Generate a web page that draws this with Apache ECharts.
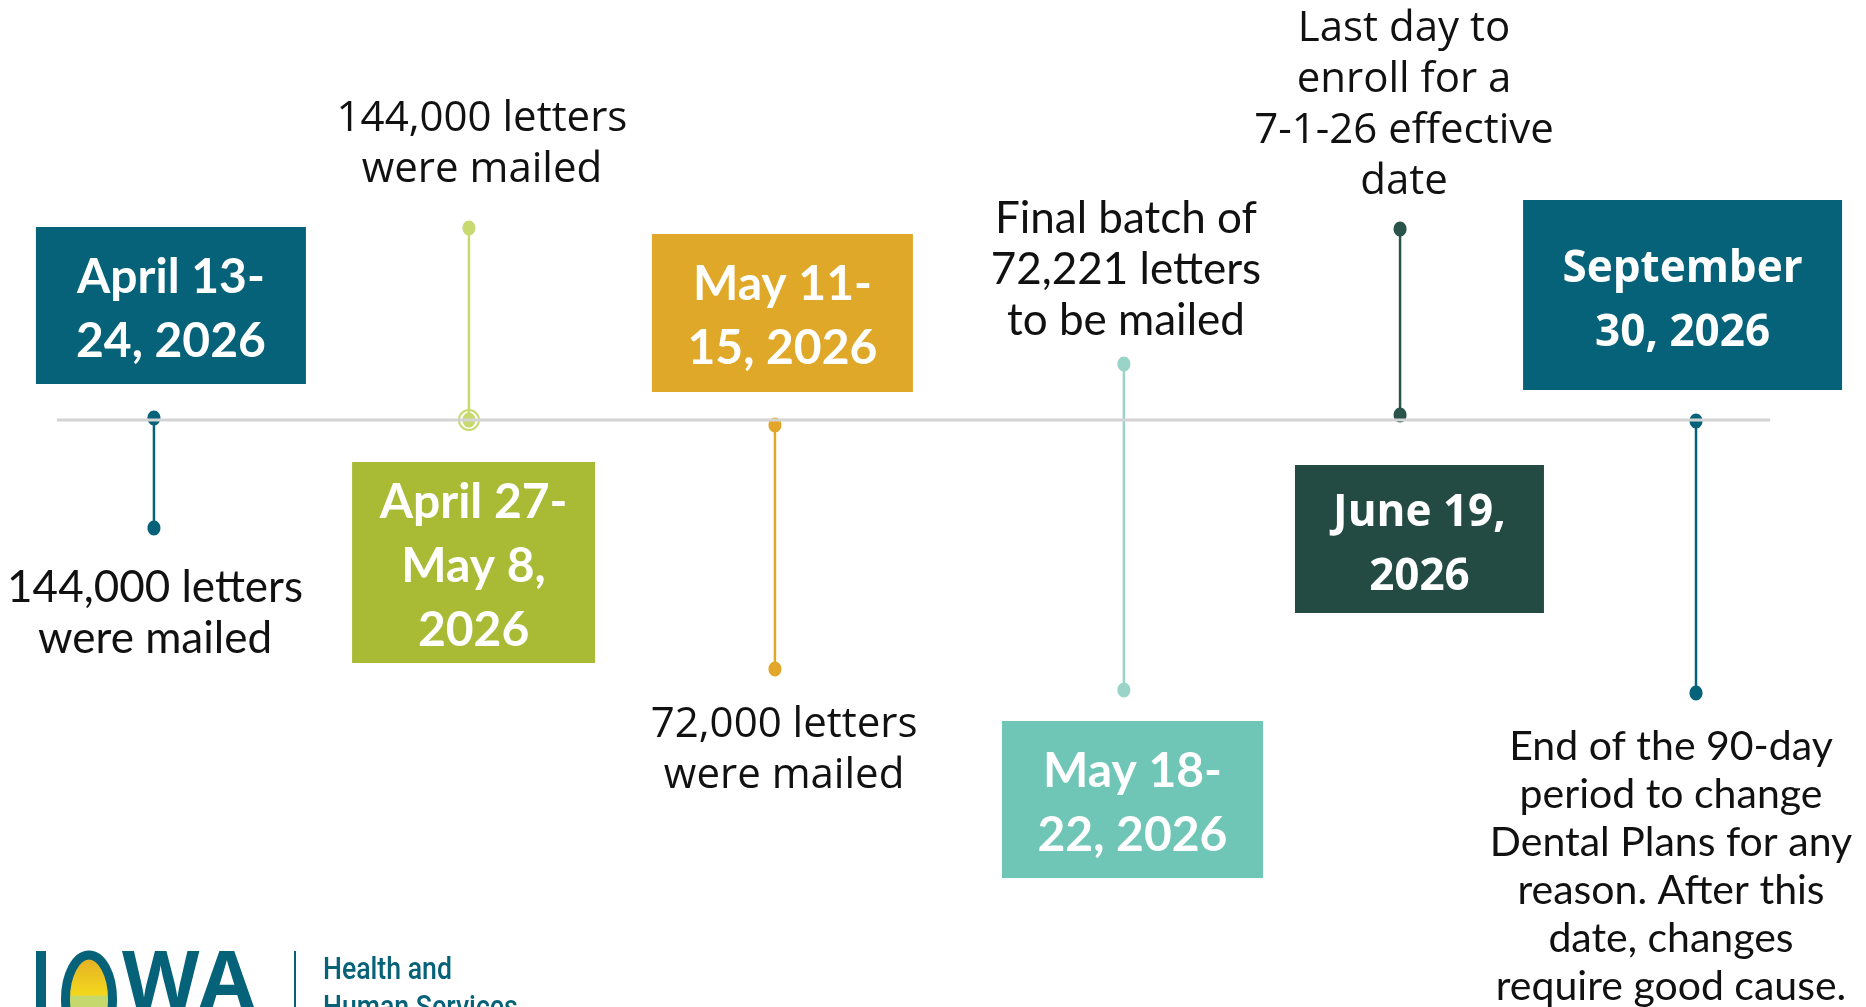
<!DOCTYPE html>
<html>
<head>
<meta charset="utf-8">
<title>Dental plan letters timeline</title>
<script src="https://cdn.jsdelivr.net/npm/echarts@6/dist/echarts.min.js"></script>
<style>
  html, body { margin: 0; padding: 0; background: #fff; }
  #chart { width: 1866px; height: 1007px; }
</style>
</head>
<body>
<div id="chart"></div>
<script>
// timeline events
var dates = [
  'April 13-\n24, 2026',
  'April 27-\nMay 8,\n2026',
  'May 11-\n15, 2026',
  'May 18-\n22, 2026',
  'June 19,\n2026',
  'September\n30, 2026'
];
var notes = [
  '144,000 letters\nwere mailed',
  '144,000 letters\nwere mailed',
  '72,000 letters\nwere mailed',
  'Final batch of\n72,221 letters\nto be mailed',
  'Last day to\nenroll for a\n7-1-26 effective\ndate',
  'End of the 90-day\nperiod to change\nDental Plans for any\nreason. After this\ndate, changes\nrequire good cause.'
];
// position along the timeline (x, % of width) and stem ends (y, 0 = timeline)
var slotX = [8.25, 25.13, 41.53, 60.23, 75.03, 90.89];
var stemStart = [0.2, 0, -0.5, 5.6, 0.5, -0.1];
var stemEnd = [-10.8, 19.2, -24.9, -27.0, 19.1, -27.3];
var lineSpan = [3.05, 94.86];

// where boxes and notes sit, and how they look (bdy/ndy = text nudge in px)
var layout = [
  { box: [9.16, 11.45], size: [270, 157], fill: '#066278', stem: '#066278', bfont: 'Lato', bsize: 48, bdy: 4,
    note: [8.31, -19.25], nfont: 'Lato', nsize: 44, nline: 51, ndy: 1 },
  { box: [25.38, -14.25], size: [243, 201], fill: '#a9bb35', stem: '#c8d96f', ring: true, bfont: 'Lato', bsize: 48, bdy: 4,
    note: [25.83, 27.85], nfont: 'Open Sans', nsize: 42, nline: 51, ndy: 3 },
  { box: [41.93, 10.7], size: [261, 158], fill: '#e0a828', stem: '#e2a72a', bfont: 'Lato', bsize: 48, bdy: 4,
    note: [42.02, -32.75], nfont: 'Open Sans', nsize: 42, nline: 51, ndy: 3 },
  { box: [60.69, -37.95], size: [261, 157], fill: '#70c6b6', stem: '#9ad3c8', bfont: 'Lato', bsize: 48, bdy: 4,
    note: [60.34, 15.1], nfont: 'Lato', nsize: 44, nline: 51, ndy: 1 },
  { box: [76.07, -11.9], size: [249, 148], fill: '#234b43', stem: '#2a5449', bfont: 'Open Sans', bsize: 44, bdy: 6,
    note: [75.24, 31.7], nfont: 'Open Sans', nsize: 42, nline: 51, ndy: 3 },
  { box: [90.17, 12.5], size: [319, 190], fill: '#066278', stem: '#066278', bfont: 'Open Sans', bsize: 44, bdy: 6,
    note: [89.55, -44.5], nfont: 'Lato', nsize: 41, nline: 48, ndy: 2 }
];

var chart = echarts.init(document.getElementById('chart'));

chart.setOption({
  animation: false,
  grid: { left: 0, right: 0, top: 0, bottom: 0 },
  xAxis: { type: 'value', min: 0, max: 100, show: false },
  yAxis: { type: 'value', min: -58.7, max: 42, show: false },
  graphic: [
    // IOWA HHS logo, cut off at the bottom edge
    { type: 'rect', shape: { x: 36, y: 951, width: 10, height: 60 }, style: { fill: '#066278' } },
    {
      type: 'ellipse', shape: { cx: 89, cy: 999, rx: 23.5, ry: 44 },
      style: {
        stroke: '#066278', lineWidth: 9,
        fill: new echarts.graphic.LinearGradient(0, 0, 0, 1, [
          { offset: 0, color: '#e0a828' },
          { offset: 0.46, color: '#f4d81c' },
          { offset: 0.47, color: '#c5d86d' },
          { offset: 1, color: '#c5d86d' }
        ])
      }
    },
    { type: 'text', x: 122, y: 946, style: { text: 'WA', font: 'bold 80px "Open Sans"', fill: '#066278', verticalAlign: 'top' } },
    { type: 'rect', shape: { x: 294, y: 951, width: 2, height: 60 }, style: { fill: '#066278' } },
    { type: 'text', x: 323, y: 952, scaleX: 0.86, style: { text: 'Health and\nHuman Services', font: '500 31px Roboto', lineHeight: 38, fill: '#066278', verticalAlign: 'top' } }
  ],
  series: [
    {
      type: 'line',
      data: [[lineSpan[0], 0], [lineSpan[1], 0]],
      symbol: 'none',
      lineStyle: { color: '#d3d3d3', width: 3 },
      silent: true
    },
    {
      type: 'custom',
      data: slotX.map(function (x, i) { return [x, stemStart[i], stemEnd[i]]; }),
      renderItem: function (params, api) {
        var l = layout[params.dataIndex];
        var a = api.coord([api.value(0), api.value(1)]);
        var b = api.coord([api.value(0), api.value(2)]);
        var kids = [
          { type: 'line', shape: { x1: a[0], y1: a[1], x2: b[0], y2: b[1] }, style: { stroke: l.stem, lineWidth: 2.5 } },
          { type: 'ellipse', shape: { cx: a[0], cy: a[1], rx: 6.5, ry: 7.5 }, style: { fill: l.stem } },
          { type: 'ellipse', shape: { cx: b[0], cy: b[1], rx: 6.5, ry: 7.5 }, style: { fill: l.stem } }
        ];
        if (l.ring) {
          kids.push({ type: 'circle', shape: { cx: a[0], cy: a[1], r: 10 }, style: { fill: null, stroke: l.stem, lineWidth: 2 } });
        }
        return { type: 'group', children: kids };
      }
    },
    {
      type: 'custom',
      data: dates.map(function (d, i) { return [layout[i].box[0], layout[i].box[1]]; }),
      renderItem: function (params, api) {
        var i = params.dataIndex;
        var l = layout[i];
        var c = api.coord([api.value(0), api.value(1)]);
        return {
          type: 'group',
          children: [
            { type: 'rect', shape: { x: c[0] - l.size[0] / 2, y: c[1] - l.size[1] / 2, width: l.size[0], height: l.size[1] }, style: { fill: l.fill } },
            { type: 'text', x: c[0], y: c[1] + l.bdy, style: {
              text: dates[i], fill: '#fff', align: 'center', verticalAlign: 'middle',
              font: 'bold ' + l.bsize + 'px "' + l.bfont + '"', lineHeight: 64
            } }
          ]
        };
      }
    },
    {
      type: 'custom',
      data: notes.map(function (n, i) { return [layout[i].note[0], layout[i].note[1]]; }),
      renderItem: function (params, api) {
        var i = params.dataIndex;
        var l = layout[i];
        var c = api.coord([api.value(0), api.value(1)]);
        return {
          type: 'text', x: c[0], y: c[1] + l.ndy, style: {
            text: notes[i], fill: '#111', align: 'center', verticalAlign: 'middle',
            font: l.nsize + 'px "' + l.nfont + '"', lineHeight: l.nline
          }
        };
      }
    }
  ]
});
</script>
</body>
</html>
